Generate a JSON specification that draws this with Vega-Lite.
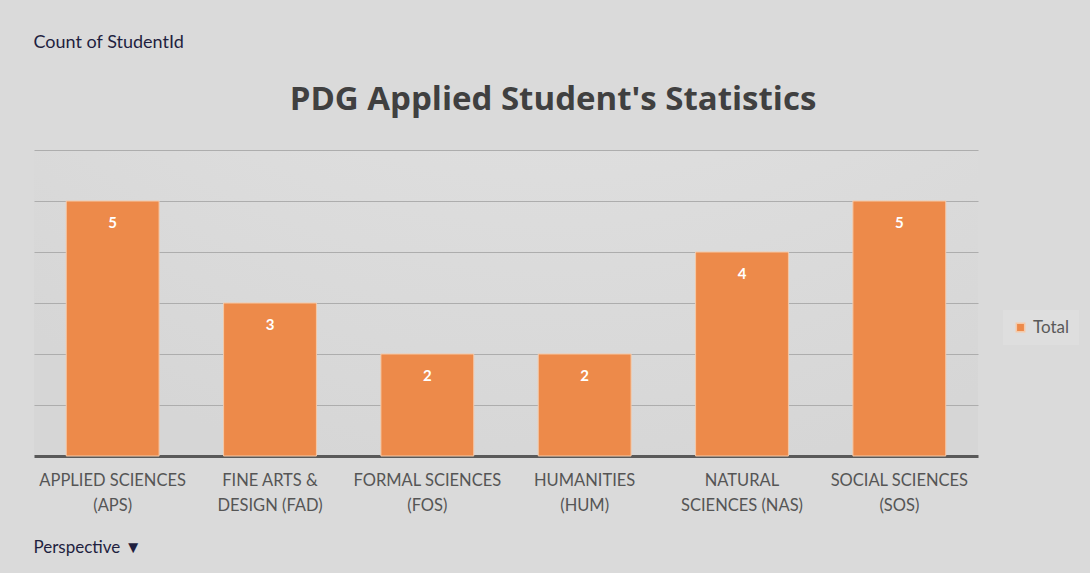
{
  "$schema": "https://vega.github.io/schema/vega-lite/v6.json",
  "autosize": "none",
  "width": 944,
  "height": 306,
  "padding": {"left": 34, "top": 150, "right": 112, "bottom": 117},
  "background": "#dadada",
  "title": {
    "text": "PDG Applied Student's Statistics",
    "font": "Open Sans",
    "fontSize": 33,
    "fontWeight": "bold",
    "color": "#404040",
    "anchor": "middle",
    "frame": "group",
    "dx": 47,
    "offset": -84
  },
  "config": {
    "view": {"stroke": null, "fill": {"gradient": "radial", "x1": 0.55, "y1": -0.3, "x2": 0.55, "y2": -0.3, "r1": 0, "r2": 1.0, "stops": [{"offset": 0, "color": "#ebebeb"}, {"offset": 1, "color": "#d6d6d6"}]}},
    "font": "Lato"
  },
  "data": {
    "values": [
      {"Perspective": "APPLIED SCIENCES\n(APS)", "Series": "Total", "Count": 5},
      {"Perspective": "FINE ARTS &\nDESIGN (FAD)", "Series": "Total", "Count": 3},
      {"Perspective": "FORMAL SCIENCES\n(FOS)", "Series": "Total", "Count": 2},
      {"Perspective": "HUMANITIES\n(HUM)", "Series": "Total", "Count": 2},
      {"Perspective": "NATURAL\nSCIENCES (NAS)", "Series": "Total", "Count": 4},
      {"Perspective": "SOCIAL SCIENCES\n(SOS)", "Series": "Total", "Count": 5}
    ]
  },
  "encoding": {
    "x": {
      "field": "Perspective",
      "type": "nominal",
      "sort": null,
      "scale": {"paddingInner": 0.41, "paddingOuter": 0.205},
      "axis": {
        "title": "Perspective ▼",
        "titleFont": "Lato",
        "titleFontSize": 17,
        "titleFontWeight": "normal",
        "titleColor": "#1f1f3f",
        "titleAnchor": "start",
        "titleAlign": "left",
        "titleBaseline": "middle",
        "titleX": -1,
        "titleY": 91,
        "labelAngle": 0,
        "labelExpr": "split(datum.value, '\\n')",
        "labelFontSize": 16.5,
        "labelColor": "#555555",
        "labelLineHeight": 25,
        "labelPadding": 16,
        "ticks": false,
        "domainColor": "#595959",
        "domainWidth": 3
      }
    },
    "y": {
      "field": "Count",
      "type": "quantitative",
      "scale": {"domain": [0, 6]},
      "axis": {
        "title": "Count of StudentId",
        "titleAngle": 0,
        "titleFont": "Lato",
        "titleFontSize": 18,
        "titleFontWeight": "normal",
        "titleColor": "#1f1f3f",
        "titleAlign": "left",
        "titleBaseline": "middle",
        "titleX": -1,
        "titleY": -108,
        "values": [1, 2, 3, 4, 5, 6],
        "labels": false,
        "ticks": false,
        "domain": false,
        "grid": true,
        "gridColor": "#adadad",
        "gridWidth": 1
      }
    }
  },
  "layer": [
    {
      "mark": {"type": "bar", "stroke": "#f5c9a8", "strokeWidth": 1, "opacity": 1},
      "encoding": {
        "color": {
          "field": "Series",
          "type": "nominal",
          "scale": {"range": ["#ed8a4a"]},
          "legend": {
            "title": null,
            "orient": "none",
            "legendX": 969,
            "legendY": 160,
            "fillColor": "#dedede",
            "padding": 9,
            "symbolType": "square",
            "symbolSize": 70,
            "labelFontSize": 17,
            "labelColor": "#595959",
            "labelFont": "Lato"
          }
        }
      }
    },
    {
      "mark": {"type": "text", "baseline": "top", "dy": 15, "color": "white", "fontWeight": "bold", "fontSize": 15},
      "encoding": {"text": {"field": "Count", "type": "quantitative"}}
    }
  ]
}
